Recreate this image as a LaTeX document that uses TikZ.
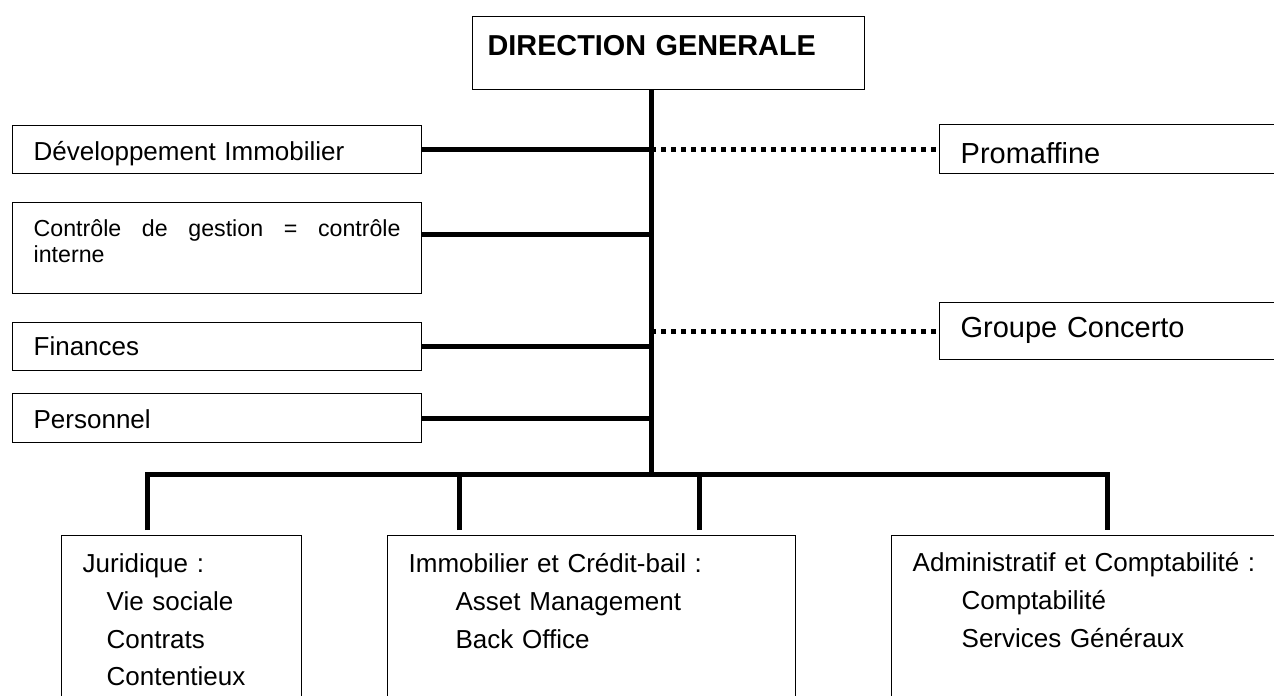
\documentclass[tikz,border=0pt]{standalone}
\usepackage{fontspec}
\setmainfont{Liberation Sans}
\usetikzlibrary{calc, positioning}

\tikzset{
  unit/.style={draw, line width=0.75pt, anchor=north west, align=left, inner xsep=0.42cm, inner ysep=0pt, font=\fontsize{14.8}{21.5}\selectfont},
  bigunit/.style={unit, font=\fontsize{16.5}{20}\selectfont},
  link/.style={line width=0.1cm},
  tie/.style={line width=0.1cm, dash pattern=on 0.1cm off 0.1cm},
}

\begin{document}
\begin{tikzpicture}[x=0.02cm, y=-0.02cm]
  \useasboundingbox (0,0) rectangle (1274,696);
  \clip (0,0) rectangle (1274,696);

  % Top box
  \node[unit, inner xsep=0.3cm, text width=7.24cm, text height=0.78cm, text depth=0.68cm, font=\bfseries\fontsize{16.4}{20}\selectfont] (dg) at (472,16) {DIRECTION GENERALE};

  % Staff units (left)
  \node[unit, text width=7.34cm, text height=0.7cm, text depth=0.26cm] (dev) at (12,125) {Développement Immobilier};
  \node[unit, text width=7.34cm, text height=0.68cm, text depth=1.14cm, align=justify, font=\fontsize{13.2}{14.8}\selectfont] (ctl) at (12,202) {Contrôle de gestion = contrôle \mbox{interne}};
  \node[unit, text width=7.34cm, text height=0.66cm, text depth=0.3cm] (fin) at (12,322) {Finances};
  \node[unit, text width=7.34cm, text height=0.7cm, text depth=0.28cm] (per) at (12,393) {Personnel};

  % Linked companies (right)
  \node[bigunit, text width=6.38cm, text height=0.78cm, text depth=0.2cm] (pro) at (939,124) {Promaffine};
  \node[bigunit, text width=6.38cm, text height=0.7cm, text depth=0.44cm] (grp) at (939,302) {Groupe Concerto};

  % Departments (bottom)
  \node[unit, text width=3.96cm, text height=0.74cm, text depth=2.96cm] (jur) at (61,535) {Juridique :\\ \hspace*{0.48cm}Vie sociale\\ \hspace*{0.48cm}Contrats\\ \hspace*{0.48cm}Contentieux};
  \node[unit, text width=7.32cm, text height=0.74cm, text depth=2.96cm] (imm) at (387,535) {Immobilier et Crédit-bail :\\ \hspace*{0.94cm}Asset Management\\ \hspace*{0.94cm}Back Office};
  \node[unit, text width=7.34cm, text height=0.72cm, text depth=2.98cm] (adm) at (891,535) {Administratif et Comptabilité :\\ \hspace*{0.98cm}Comptabilité\\ \hspace*{0.98cm}Services Généraux};

  % Trunk and side links
  \coordinate (hub) at (651,474);
  \coordinate (ctlport) at ($(ctl.north east)+(0,32)$);
  \draw[link] (dg.south -| hub) -- (hub);
  \draw[link] (dev.east) -- (dev.east -| hub);
  \draw[link] (ctlport) -- (ctlport -| hub);
  \draw[link] (fin.east) -- (fin.east -| hub);
  \draw[link] (per.east) -- (per.east -| hub);

  % Dotted links
  \draw[tie] (pro.west -| hub) -- (pro.west);
  \draw[tie] (grp.west -| hub) -- (grp.west);

  % Bus to departments
  \coordinate (d1) at ($(jur.north west)+(86,-5)$);
  \coordinate (d2) at ($(imm.north west)+(72,-5)$);
  \coordinate (d3) at ($(imm.north west)+(312,-5)$);
  \coordinate (d4) at ($(adm.north west)+(216,-5)$);
  \draw[link] (d1) |- (hub) -| (d4);
  \draw[link] (d2) -- (d2 |- hub);
  \draw[link] (d3) -- (d3 |- hub);
\end{tikzpicture}
\end{document}
